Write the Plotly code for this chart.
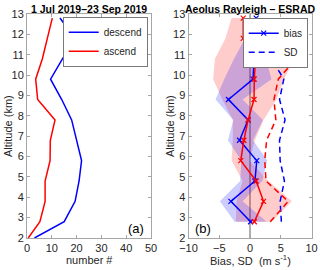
import plotly.graph_objects as go

# ---- panel (a): number of profiles ----
alt_n = [2.0, 2.8, 3.8, 4.8, 5.8, 6.8, 7.8, 8.8, 9.8, 10.8, 11.8, 12.8]
n_descend = [3, 15, 19.4, 21, 22, 20, 18, 14, 9.5, 14.3, 19.4, 13.3]
n_ascend = [0.5, 5.2, 7.3, 7.3, 9.3, 9.4, 11.3, 4.3, 3.5, 6.2, 8.2, 10.2]

# ---- panel (b): bias and SD ----
alt_b = [2.8, 3.8, 4.8, 5.8, 6.8, 7.8, 8.8, 9.8, 10.8, 11.8, 12.8]
bias_desc = [0.1, -3.1, 0.8, 1.1, -1.7, -0.3, -3.5, 0.5, 0.65, 0.3, 1.0]
bias_asc = [0.7, 2.2, 1.0, -1.5, -1.0, -0.3, 0.65, 0.7, 0.9, -1.1, -1.1]
sd_desc = [5.1, 4.9, 5.6, 4.9, 4.8, 5.7, 4.8, 5.5, 3.5, 3.2, 4.5]
sd_asc = [3.3, 6.2, 2.6, 2.4, 2.7, 4.2, 3.9, 4.6, 7.5, 3.9, 3.1]
band_desc_lo = [-2.5, -4.9, -1.6, -1.4, -3.6, -2.7, -5.6, -4.2, -2.6, -0.8, -1.1]
band_desc_hi = [2.7, -1.2, 2.0, 2.8, 0.5, 2.1, -1.2, 3.5, 2.6, 1.2, 3.5]
band_asc_lo = [-2.3, -2.2, -1.2, -3.0, -2.8, -2.8, -4.5, -6.0, -5.7, -4.0, -3.0]
band_asc_hi = [3.5, 6.8, 3.0, -0.1, 0.8, 2.2, 4.3, 5.5, 7.3, 2.7, 0.8]

BLUE = "#0000ff"
RED = "#ff0000"
FONT = "Liberation Sans, Arial, sans-serif"
TXT = "#262626"
DASH = "6px,4px"

fig = go.Figure()

# panel (a)
fig.add_trace(go.Scatter(x=n_descend, y=alt_n, mode="lines", name="descend",
                         line=dict(color=BLUE, width=1.5), xaxis="x", yaxis="y",
                         legend="legend"))
fig.add_trace(go.Scatter(x=n_ascend, y=alt_n, mode="lines", name="ascend",
                         line=dict(color=RED, width=1.5), xaxis="x", yaxis="y",
                         legend="legend"))

# panel (b) bands
fig.add_trace(go.Scatter(x=band_asc_lo + band_asc_hi[::-1], y=alt_b + alt_b[::-1],
                         fill="toself", fillcolor="rgba(255,0,0,0.2)",
                         line=dict(width=0), mode="lines", hoverinfo="skip",
                         showlegend=False, xaxis="x2", yaxis="y2"))
fig.add_trace(go.Scatter(x=band_desc_lo + band_desc_hi[::-1], y=alt_b + alt_b[::-1],
                         fill="toself", fillcolor="rgba(0,0,255,0.2)",
                         line=dict(width=0), mode="lines", hoverinfo="skip",
                         showlegend=False, xaxis="x2", yaxis="y2"))

# SD dashed
fig.add_trace(go.Scatter(x=sd_desc, y=alt_b, mode="lines", name="SD",
                         line=dict(color=BLUE, width=1.5, dash=DASH),
                         xaxis="x2", yaxis="y2", legend="legend2"))
fig.add_trace(go.Scatter(x=sd_asc, y=alt_b, mode="lines", showlegend=False,
                         line=dict(color=RED, width=1.5, dash=DASH),
                         xaxis="x2", yaxis="y2"))

# bias lines
fig.add_trace(go.Scatter(x=bias_desc, y=alt_b, mode="lines+markers", name="bias",
                         line=dict(color=BLUE, width=1.5),
                         marker=dict(symbol="x-thin", size=5, line=dict(color=BLUE, width=1.2)),
                         xaxis="x2", yaxis="y2", legend="legend2"))
fig.add_trace(go.Scatter(x=bias_asc, y=alt_b, mode="lines+markers", showlegend=False,
                         line=dict(color=RED, width=1.5),
                         marker=dict(symbol="x-thin", size=5, line=dict(color=RED, width=1.2)),
                         xaxis="x2", yaxis="y2"))

fig.add_vline(x=0, line=dict(color="rgba(110,110,110,0.55)", width=2),
              xref="x2", yref="y2", layer="below")

axis_common = dict(showline=True, linecolor="#a6a6a6", linewidth=1, mirror="allticks",
                   ticks="inside", ticklen=3, tickcolor="#a6a6a6", showgrid=False,
                   zeroline=False, automargin=False,
                   tickfont=dict(family=FONT, size=11, color=TXT))

Y0, Y1 = 32/270, 256/270
fig.update_layout(
    width=320, height=270,
    margin=dict(l=0, r=0, t=0, b=0, autoexpand=False),
    paper_bgcolor="white", plot_bgcolor="white",
    font=dict(family=FONT, size=11, color=TXT),
    xaxis=dict(domain=[27/320, 151/320], range=[0, 50], dtick=10, anchor="y", **axis_common),
    yaxis=dict(domain=[Y0, Y1], range=[2, 13], dtick=1, anchor="x", **axis_common),
    xaxis2=dict(domain=[188.5/320, 311.5/320], range=[-10, 10], dtick=5, anchor="y2",
                **axis_common),
    yaxis2=dict(domain=[Y0, Y1], range=[2, 13], dtick=1, anchor="x2", **axis_common),
    legend=dict(x=148/320, y=1-17/270, xanchor="right", yanchor="top",
                bgcolor="white", bordercolor="#404040", borderwidth=0.7,
                font=dict(family=FONT, size=10, color=TXT),
                tracegroupgap=0, itemwidth=30),
    legend2=dict(x=308/320, y=1-18/270, xanchor="right", yanchor="top",
                 bgcolor="white", bordercolor="#404040", borderwidth=0.7,
                 font=dict(family=FONT, size=10, color=TXT),
                 tracegroupgap=0, itemwidth=30, traceorder="reversed"),
    annotations=[
        dict(text="<b>1 Jul 2019–23 Sep 2019</b>", x=89/320, y=1-0.5/270,
             xref="paper", yref="paper", xanchor="center", yanchor="top",
             showarrow=False, font=dict(family=FONT, size=10.5, color="#000")),
        dict(text="<b>Aeolus Rayleigh – ESRAD</b>", x=250/320, y=1-0.5/270,
             xref="paper", yref="paper", xanchor="center", yanchor="top",
             showarrow=False, font=dict(family=FONT, size=10.5, color="#000")),
        dict(text="(a)", x=146/320, y=1-228/270, xref="paper", yref="paper",
             xanchor="right", yanchor="middle", showarrow=False,
             font=dict(family=FONT, size=13, color="#000")),
        dict(text="(b)", x=193/320, y=1-228/270, xref="paper", yref="paper",
             xanchor="left", yanchor="middle", showarrow=False,
             font=dict(family=FONT, size=13, color="#000")),
        dict(text="number #", x=89/320, y=1-260/270, xref="paper", yref="paper",
             xanchor="center", yanchor="middle", showarrow=False,
             font=dict(family=FONT, size=11, color=TXT)),
        dict(text="Bias, SD  (m s<sup>-1</sup>)", x=250/320, y=1-260/270,
             xref="paper", yref="paper", xanchor="center", yanchor="middle",
             showarrow=False, font=dict(family=FONT, size=11, color=TXT)),
        dict(text="Altitude (km)", x=8/320, y=1-126/270, xref="paper", yref="paper",
             xanchor="center", yanchor="middle", textangle=-90, showarrow=False,
             font=dict(family=FONT, size=11, color=TXT)),
        dict(text="Altitude (km)", x=170/320, y=1-126/270, xref="paper", yref="paper",
             xanchor="center", yanchor="middle", textangle=-90, showarrow=False,
             font=dict(family=FONT, size=11, color=TXT)),
    ],
)

fig.write_html("out.html", config={"displayModeBar": False},
               post_script="document.body.style.margin='0';document.body.style.padding='0';")
